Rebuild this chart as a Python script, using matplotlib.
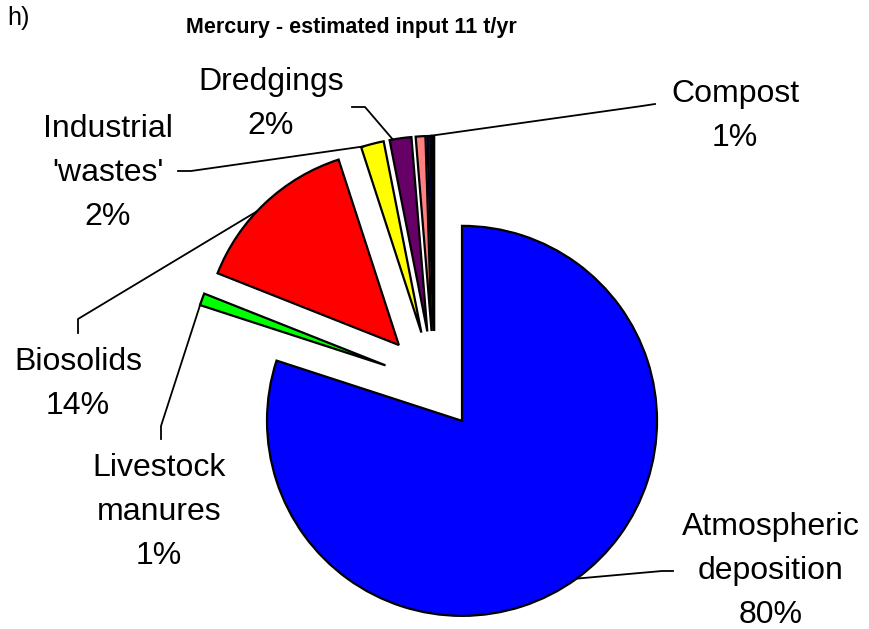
import numpy as np
import matplotlib
matplotlib.use("Agg")
import matplotlib.pyplot as plt

plt.rcParams['font.family'] = ['Liberation Sans', 'DejaVu Sans']

# Slices, clockwise from 12 o'clock
sources = ["Atmospheric\ndeposition", "Livestock\nmanures", "Biosolids",
           "Industrial\n'wastes'", "Dredgings", "Other", "Compost", "Other 2"]
shares = [80.0, 1.0, 14.0, 1.9, 1.8, 0.8, 0.3, 0.2]
shown_pct = ["80%", "1%", "14%", "2%", "2%", "", "1%", ""]
colors = ["#0000FF", "#00FF00", "#FF0000", "#FFFF00", "#660066",
          "#FF8080", "#000080", "#000000"]
explode = [0.24, 0.267, 0.267, 0.267, 0.267, 0.267, 0.267, 0.267]

W, H = 869, 629
CX, CY, R = 434.5, 383, 195   # pie centre / radius in pixels


def px(x, y):
    return (x - CX) / R, (CY - y) / R


fig = plt.figure(figsize=(W / 100, H / 100), dpi=100)
ax = fig.add_axes([0, 0, 1, 1])
wedges, _ = ax.pie(shares, colors=colors, explode=explode, startangle=90,
                   counterclock=False,
                   wedgeprops=dict(edgecolor="black", linewidth=1.6))
x0, y0 = px(0, H)
x1, y1 = px(W, 0)
ax.set_xlim(x0, x1)
ax.set_ylim(y0, y1)
ax.set_aspect("equal")
ax.axis("off")


def arc_point(i, t):
    w = wedges[i]
    a = np.radians(w.theta1 + t * (w.theta2 - w.theta1))
    cx, cy = w.center
    return cx + w.r * np.cos(a), cy + w.r * np.sin(a)


# label index, text centre (px), leader points from the text side (px), arc fraction
labels = [
    (0, (771, 571), [(673, 571), (662, 571)], 0.5),
    (1, (159, 512), [(161, 439), (161, 426)], 0.8),
    (2, (78, 384), [(78, 333), (78, 319)], 0.57),
    (3, (108, 173), [(178, 171), (191, 171)], 0.9),
    (4, (271, 104), [(352, 107), (365, 107)], 0.85),
    (6, (735, 116), [(655, 104), (642, 106)], 0.5),
]

for i, (tx, ty), pts, t in labels:
    ax.text(*px(tx, ty), sources[i] + "\n" + shown_pct[i], ha="center",
            va="center", fontsize=23, linespacing=1.63)
    xs = [px(*p)[0] for p in pts]
    ys = [px(*p)[1] for p in pts]
    ex, ey = arc_point(i, t)
    ax.plot(xs + [ex], ys + [ey], color="black", lw=1.3)

fig.text(7 / W, 1 - 18 / H, "h)", fontsize=18, ha="left", va="center")
fig.text(351 / W, 1 - 28 / H, "Mercury - estimated input 11 t/yr",
         fontsize=15.5, fontweight="bold", ha="center", va="center")

fig.savefig("out.png", dpi=100)
